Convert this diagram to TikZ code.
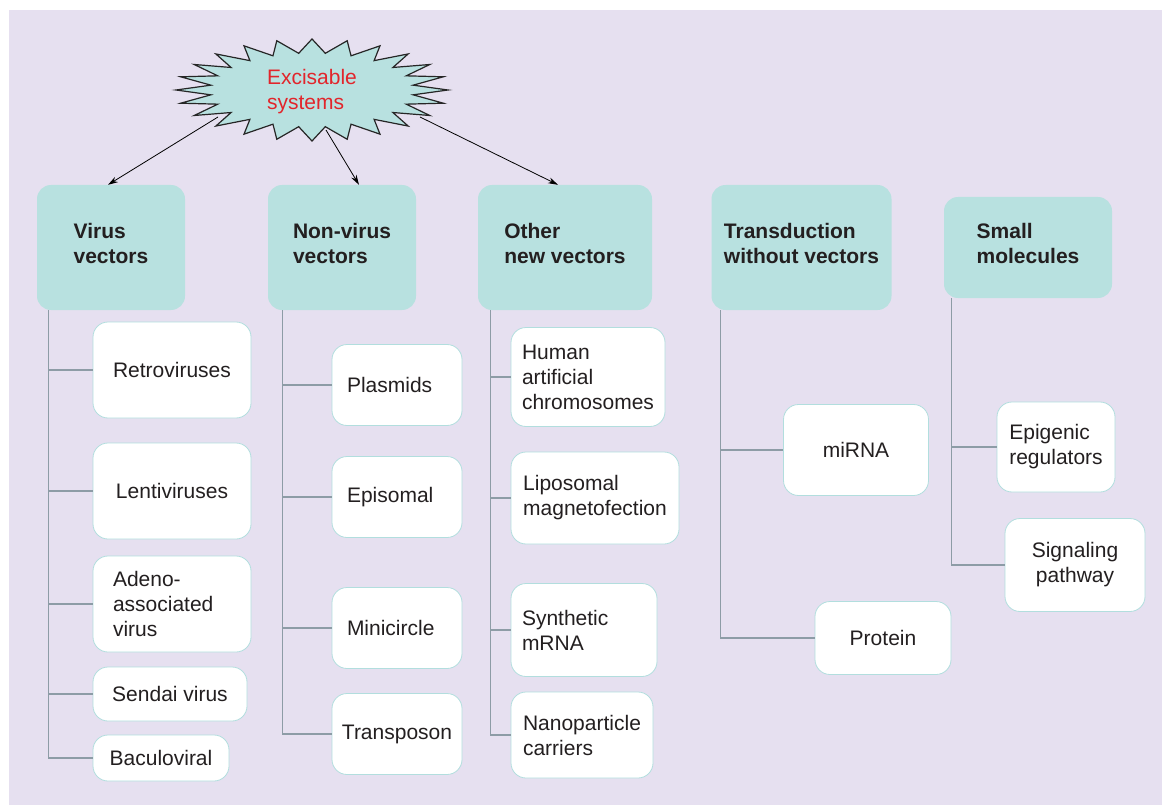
\documentclass[tikz,border=0pt]{standalone}
\usepackage{fontspec}
\setmainfont{Liberation Sans}
\usetikzlibrary{arrows.meta}

\definecolor{bgpurple}{RGB}{230,224,240}
\definecolor{headteal}{RGB}{184,225,224}
\definecolor{leafline}{RGB}{178,222,222}
\definecolor{trunkgrey}{RGB}{141,156,166}
\definecolor{burstred}{RGB}{226,37,43}
\definecolor{inkgrey}{RGB}{35,31,32}

\begin{document}
\begin{tikzpicture}[x=1pt, y=-1pt,
  every node/.style = {text=inkgrey, font=\fontsize{21}{25}\selectfont},
  head/.style = {fill=headteal, rounded corners=14pt, align=left, text depth=8pt,
    font=\fontsize{21}{25}\selectfont\bfseries},
  leaf/.style = {draw=leafline, line width=0.8pt, fill=white,
    rounded corners=15pt, align=left},
  trunk/.style = {draw=trunkgrey, line width=1.3pt},
  burstline/.style = {fill=headteal, draw=black!85, line width=1.2pt, line join=miter},
  pointer/.style = {-{Stealth[length=10pt,width=6pt]}, line width=0.8pt, black}]
  \useasboundingbox (0,0) rectangle (1162,805);
  \fill[bgpurple] (9,10) rectangle (1162,805);

  % the starburst
  \coordinate (bc) at (312,90);
  \draw[burstline] ([shift={(0:136 and 51)}]bc)
    \foreach \a in {0,15,...,345} {
      -- ([shift={(\a:136 and 51)}]bc) -- ([shift={(\a+7.5:102 and 37)}]bc)
    } -- cycle;
  \node[align=left, text=burstred, inner sep=0pt] (burst) at ([yshift=-2pt]bc) {Excisable\\systems};

  % headers
  \node[head, minimum width=148pt, minimum height=125pt] (virus) at (111,247.5) {Virus\\vectors};
  \node[head, minimum width=148pt, minimum height=125pt] (nonvirus) at (342,247.5) {Non-virus\\vectors};
  \node[head, minimum width=174pt, minimum height=125pt] (other) at (565,247.5) {Other\\new vectors};
  \node[head, minimum width=180pt, minimum height=125pt] (nonvec) at (801.5,247.5) {Transduction\\without vectors};
  \node[head, minimum width=168pt, minimum height=101pt] (small) at (1028,247.5) {Small\\molecules};

  \draw[pointer] ([shift={(-94,27)}]bc) -- ([xshift=-3pt]virus.north);
  \draw[pointer] ([shift={(14,40)}]bc) -- ([xshift=17pt]nonvirus.north);
  \draw[pointer] ([shift={(108,27)}]bc) -- ([xshift=-7pt]other.north);

  % virus vectors
  \node[leaf, minimum width=158pt, minimum height=96pt] (retro) at (172,370) {Retroviruses};
  \node[leaf, minimum width=158pt, minimum height=96pt] (lenti) at (172,491) {Lentiviruses};
  \node[leaf, minimum width=158pt, minimum height=96pt, text width=118pt] (adeno) at (172,604) {Adeno-\\associated\\virus};
  \node[leaf, minimum width=154pt, minimum height=54pt] (sendai) at (170,694) {Sendai virus};
  \node[leaf, minimum width=136pt, minimum height=46pt] (baculo) at (161,758) {Baculoviral};
  \foreach \n in {retro,lenti,adeno,sendai,baculo}
    \draw[trunk] ([xshift=12pt]virus.south west) |- (\n.west);

  % non-virus vectors
  \node[leaf, minimum width=130pt, minimum height=81pt, text width=100pt] (plasmids) at (397,385) {Plasmids};
  \node[leaf, minimum width=130pt, minimum height=81pt, text width=100pt] (episomal) at (397,497) {Episomal};
  \node[leaf, minimum width=130pt, minimum height=81pt, text width=100pt] (minicircle) at (397,628) {Minicircle};
  \node[leaf, minimum width=130pt, minimum height=81pt] (transposon) at (397,734) {Transposon};
  \foreach \n in {plasmids,episomal,minicircle,transposon}
    \draw[trunk] ([xshift=15pt]nonvirus.south west) |- (\n.west);

  % other new vectors
  \node[leaf, minimum width=154pt, minimum height=99pt] (hac) at (588,377) {Human\\artificial\\chromosomes};
  \node[leaf, minimum width=168pt, minimum height=92pt] (lipo) at (595,498) {Liposomal\\magnetofection};
  \node[leaf, minimum width=146pt, minimum height=93pt, text width=124pt] (mrna) at (584,630) {Synthetic\\mRNA};
  \node[leaf, minimum width=142pt, minimum height=86pt] (nano) at (582,735) {Nanoparticle\\carriers};
  \foreach \n in {hac,lipo,mrna,nano}
    \draw[trunk] ([xshift=13pt]other.south west) |- (\n.west);

  % transduction without vectors
  \node[leaf, minimum width=145pt, minimum height=91pt] (mirna) at (856,450) {miRNA};
  \node[leaf, minimum width=136pt, minimum height=73pt] (protein) at (883,638) {Protein};
  \foreach \n in {mirna,protein}
    \draw[trunk] ([xshift=9pt]nonvec.south west) |- (\n.west);

  % small molecules
  \node[leaf, minimum width=118pt, minimum height=90pt] (epi) at (1056,447) {Epigenic\\regulators};
  \node[leaf, minimum width=140pt, minimum height=93pt, align=center] (signal) at (1075,565) {Signaling\\pathway};
  \foreach \n in {epi,signal}
    \draw[trunk] ([xshift=8pt]small.south west) |- (\n.west);
\end{tikzpicture}
\end{document}
